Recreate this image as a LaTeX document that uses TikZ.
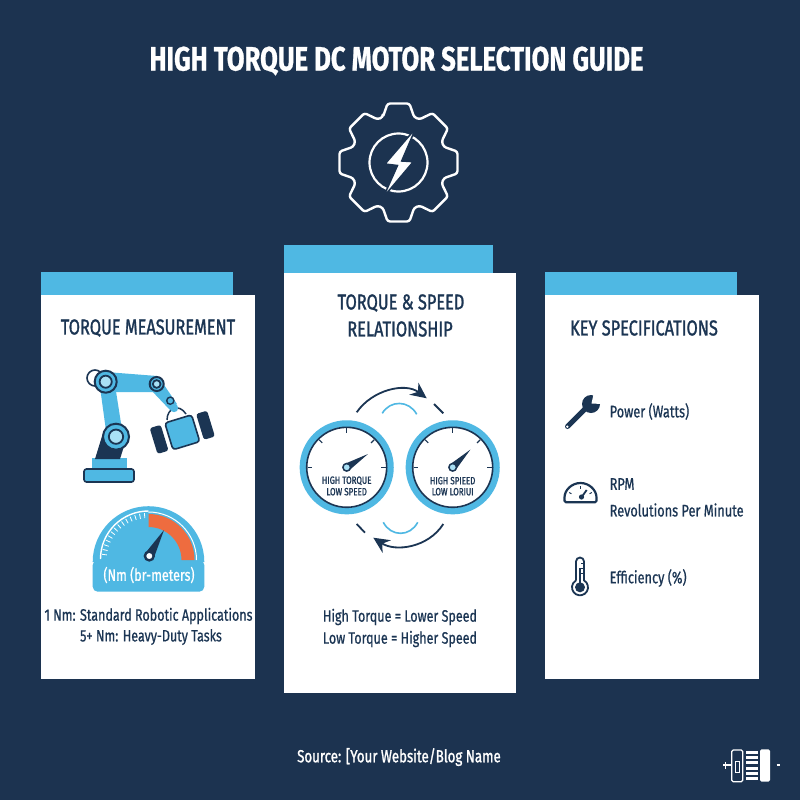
\documentclass[tikz,border=0pt]{standalone}
\usepackage{fontspec}
\setmainfont[FakeStretch=0.76,FakeBold=0.7]{Fira Sans}
\newfontfamily\headfont[FakeStretch=0.76,FakeBold=1.3]{Fira Sans}
\usetikzlibrary{arrows.meta}
\definecolor{navybg}{HTML}{1C3350}
\definecolor{navyink}{HTML}{1B3553}
\definecolor{skyblue}{HTML}{4FB8E3}
\definecolor{skylight}{HTML}{A9E0F5}
\definecolor{dialred}{HTML}{EE6C3F}
\tikzset{
  cardbody/.style={fill=white},
  cardtab/.style={fill=skyblue},
  heading/.style={text=navyink,font=\fontsize{21.5}{21.5}\headfont},
  bodytext/.style={text=navyink,font=\fontsize{16.5}{16.5}\selectfont},
  dialtext/.style={text=navyink,font=\fontsize{10.5}{10.5}\headfont},
  sidetext/.style={text=navyink,font=\fontsize{16.8}{16.8}\selectfont,anchor=west,inner sep=0pt},
  bigarrow/.style={navyink,line width=1.8pt,-{Stealth[length=16pt,width=15pt]}},
  darkdash/.style={navyink,line width=1.8pt},
  lightarc/.style={skyblue,line width=1.6pt}
}
\begin{document}
\begin{tikzpicture}[x=1pt,y=-1pt]
  \useasboundingbox (0,0) rectangle (800,800);
  \fill[navybg] (0,0) rectangle (800,800);
  \node[text=white,font=\fontsize{33.8}{33.8}\selectfont\bfseries] (title) at (396.5,61) {HIGH TORQUE DC MOTOR SELECTION GUIDE};
  % gear
  \coordinate (gearc) at (398.5,162.5);
  \draw[white,line width=2.4pt,rounded corners=2.5pt,line join=round] ([shift={(109:48pt)}]gearc)
    \foreach \a in {90,45,0,-45,-90,-135,-180,-225} {
      -- ([shift={(\a+19:48pt)}]gearc) -- ([shift={(\a+10.5:60pt)}]gearc) -- ([shift={(\a-10.5:60pt)}]gearc) -- ([shift={(\a-19:48pt)}]gearc)
    } -- cycle;
  \draw[white,line width=2.2pt] (gearc) circle (29pt);
  \fill[white,draw=navybg,line width=1.5pt,line join=miter] (415.7,128.3) -- (385,164) -- (397.5,165.5) -- (383.3,197.3) -- (413.3,161.7) -- (401.7,161) -- cycle;
  % cards
  \fill[cardtab] (41,272) rectangle (233,296);
  \fill[cardbody] (41,295) rectangle (255,679);
  \fill[cardtab] (284,245) rectangle (493,274);
  \fill[cardbody] (284,273) rectangle (516,693);
  \fill[cardtab] (545,272) rectangle (737,296);
  \fill[cardbody] (545,295) rectangle (759,679);
  \node[heading] (torquehead) at (148,328) {TORQUE MEASUREMENT};
  \node[heading] (speedhead) at (401,303) {TORQUE \& SPEED};
  \node[heading] (relhead) at (400,329) {RELATIONSHIP};
  \node[heading] (keyhead) at (644,328) {KEY SPECIFICATIONS};
  % robot arm
  \fill[skyblue] (92,458) rectangle (127,469);
  \fill[navyink] (95,459) -- (103,433) -- (125,443) -- (120,459) -- cycle;
  \fill[skyblue] (100,387) -- (115,385) -- (123,436) -- (107,438) -- cycle;
  \fill[skyblue] (106,372) -- (157,376) -- (157,392) -- (106,392) -- cycle;
  \fill[skyblue] (160,379) -- (177,404) -- (170,410) -- (151,390) -- cycle;
  \draw[navyink,line width=1.6pt,fill=skyblue,rounded corners=2.5pt] (84,469) rectangle (134,482);
  \draw[navyink,line width=1.6pt] (95,378) circle (8pt);
  \foreach \jx/\jy/\jr in {116/436.7/13,105.7/381.7/11,156.7/384/7} {
    \draw[navyink,line width=2pt,fill=skyblue] (\jx,\jy) circle (\jr pt);
    \draw[navyink,line width=1.8pt,fill=skylight] (\jx,\jy) circle (0.55*\jr pt);
  }
  \draw[navyink,line width=1.4pt,fill=skyblue] (170.3,400.7) circle (3.6pt);
  \draw[navyink,line width=1.5pt] (167,420) .. controls (167,408) and (179,403) .. (186,414);
  \fill[skyblue] (174,408) circle (4.2pt);
  \begin{scope}[shift={(182.3,432.3)},rotate=17]
    \fill[navyink,rounded corners=2.5pt] (-30,-13.5) rectangle (-18.5,13.5);
    \fill[navyink,rounded corners=2.5pt] (18.5,-13.5) rectangle (30,13.5);
    \draw[navyink,line width=1.6pt,fill=skyblue,rounded corners=3pt] (-14,-14) rectangle (14,14);
  \end{scope}
  % torque dial
  \coordinate (dialc) at (148.5,560);
  \fill[skyblue,rounded corners=5pt] (92.7,560) -- (92.7,591.7) -- (204.3,591.7) -- (204.3,560) -- cycle;
  \fill[skyblue] (92.7,562) arc (180:0:55.8pt) -- cycle;
  \fill[dialred] (148.5,514) arc (90:0:46pt) -- ++(-13pt,0) arc (0:90:33pt) -- cycle;
  \draw[white,line width=1.4pt] (100.5,559) arc (180:90:48pt);
  \draw[white,line width=1pt] (148.5,512) arc (90:0:48pt);
  \foreach \t in {95,101,...,175} {
    \draw[white,line width=0.8pt] ([shift={(\t:47pt)}]dialc) -- ([shift={(\t:42pt)}]dialc);
  }
  \fill[navyink] ([shift={(150:5pt)}]149.3,556) -- (164,530) -- ([shift={(-30:5pt)}]149.3,556) -- cycle;
  \draw[navyink,line width=2.4pt,fill=white] (149.3,556) circle (4.4pt);
  \node[text=white,font=\fontsize{16.5}{16.5}\selectfont] (dialunit) at (149,575) {(Nm (br-meters)};
  \node[bodytext] (stdline) at (148.5,616) {1 Nm: Standard Robotic Applications};
  \node[bodytext] (heavyline) at (151,637) {5+ Nm: Heavy-Duty Tasks};
  % speed dials
  \foreach \n/\cx/\na/\la/\lb in {1/346.7/32/HIGH TORQUE/LOW SPEED,2/452.7/45/HIGH SPIEED/LOW LORIUI} {
    \coordinate (dial\n) at (\cx,467.3);
    \draw[skyblue,line width=6.5pt] (dial\n) circle (43.8pt);
    \draw[navyink,line width=1.6pt,fill=white] (dial\n) circle (40pt);
    \foreach \t in {0,45,90,135,180} {
      \draw[navyink,line width=1.1pt] ([shift={(\t:39pt)}]dial\n) -- ([shift={(\t:34.5pt)}]dial\n);
    }
    \fill[navyink] ([shift={(\na+90:4pt)}]dial\n) -- ([shift={(\na:25pt)}]dial\n) -- ([shift={(\na-90:4pt)}]dial\n) -- cycle;
    \draw[navyink,line width=1.5pt,fill=skylight] (dial\n) circle (3.8pt);
    \node[dialtext] (dialtop\n) at (\cx,480.7) {\la};
    \node[dialtext] (dialbot\n) at (\cx,491.7) {\lb};
  }
  \coordinate (upstart) at (356.7,412.3);
  \coordinate (upend) at (426.7,398.3);
  \coordinate (downstart) at (443.3,524);
  \coordinate (downend) at (373.3,537.7);
  \draw[bigarrow] (upstart) .. controls (372,390) and (405,382) .. (upend);
  \draw[bigarrow] (downstart) .. controls (428,548) and (395,552) .. (downend);
  \draw[darkdash] (434,404) -- (443.3,413.3);
  \draw[darkdash] (356.7,524) -- (365,532.7);
  \draw[lightarc] (382.3,413.3) .. controls (390,400) and (409,400) .. (416.7,414.3);
  \draw[lightarc] (383.3,522.3) .. controls (391,537) and (410,537) .. (417.7,522.3);
  \node[bodytext] (lowerline) at (400,617) {High Torque = Lower Speed};
  \node[bodytext] (higherline) at (400,639) {Low Torque = Higher Speed};
  % spec icons
  \draw[navyink,line width=5pt,line cap=round] (567.5,426.5) -- (588,406);
  \fill[navyink] (591,404) circle (9pt);
  \fill[white] (591.5,403.5) -- (594,392) -- (604,394) -- (602,404) -- cycle;
  \fill[white] (567.3,426.7) circle (1.3pt);
  \draw[navyink,line width=2.2pt,line join=round,rounded corners=1.5pt] (564.5,502.3) -- (564.5,499) arc (180:0:16pt) -- (596.5,502.3) -- cycle;
  \draw[navyink,line width=1.8pt] (581.7,497) -- (586.7,490);
  \fill[navyink] (581.5,497) circle (2.6pt);
  \foreach \t in {30,90,150} {
    \draw[navyink,line width=1pt] ([shift={(\t:13pt)}]580.5,499) -- ([shift={(\t:10.5pt)}]580.5,499);
  }
  \draw[navyink,line width=1.8pt] (576,580.4) -- (576,561.5) arc (180:0:4pt) -- (584,580.4) arc (60:-240:8pt);
  \fill[navyink] (580,587.3) circle (5pt);
  \draw[navyink,line width=2pt] (580,568) -- (580,585);
  \foreach \ty in {563,568,573} {
    \draw[navyink,line width=0.7pt] (581,\ty) -- (583.5,\ty);
  }
  \node[sidetext] (powertext) at (609.5,411.5) {Power (Watts)};
  \node[sidetext] (rpmtext) at (609.5,484) {RPM};
  \node[sidetext] (revtext) at (609.5,510) {Revolutions Per Minute};
  \node[sidetext] (efftext) at (609.5,578) {Efficiency (\%)};
  % footer
  \node[text=white,font=\fontsize{17.5}{17.5}\headfont] (source) at (399,757) {Source: [Your Website/Blog Name};
  \draw[white,line width=1.2pt,rounded corners=1.5pt] (731.7,750) rectangle (742.7,781.7);
  \draw[white,line width=1pt] (735,761) rectangle (739,772);
  \draw[white,line width=1.2pt] (723.3,765) -- (731.7,765);
  \draw[white,line width=1.2pt] (725.5,762) -- (725.5,768.5);
  \foreach \sy in {751,756,761,767,772,777} {
    \fill[white] (745.7,\sy) rectangle (758.3,\sy+2.6);
  }
  \fill[white,rounded corners=1.5pt] (760,749.3) rectangle (770,781.7);
  \draw[white,line width=1.2pt] (776.7,765) -- (780,765);
\end{tikzpicture}
\end{document}
